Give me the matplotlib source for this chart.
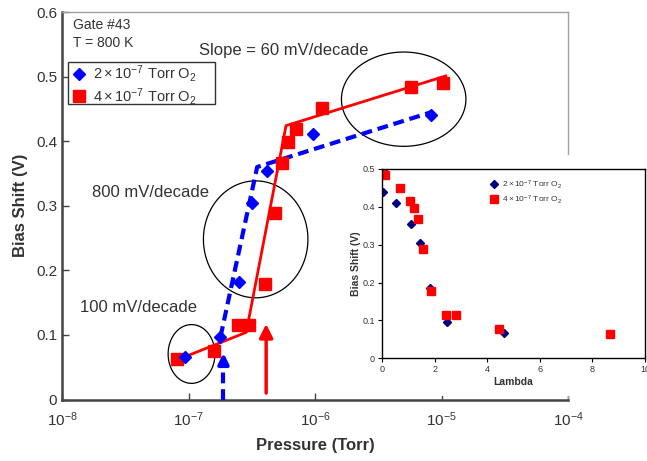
import numpy as np
import matplotlib
matplotlib.use("Agg")
import matplotlib.pyplot as plt
from matplotlib.patches import Rectangle

plt.rcParams['font.family'] = ['Liberation Sans', 'DejaVu Sans']
plt.rcParams['mathtext.fontset'] = 'custom'
plt.rcParams['mathtext.rm'] = 'Liberation Sans'
plt.rcParams['mathtext.it'] = 'Liberation Sans:italic'
plt.rcParams['mathtext.bf'] = 'Liberation Sans:bold'

# main plot data: pressure (Torr) vs bias shift (V)
blue_P = [9.3e-8, 1.79e-7, 2.52e-7, 3.19e-7, 4.19e-7, 9.6e-7, 8.2e-6]
blue_V = [0.066, 0.097, 0.182, 0.304, 0.354, 0.411, 0.441]
red_P = [8.05e-8, 1.6e-7, 2.48e-7, 3.0e-7, 4.04e-7, 4.84e-7, 5.5e-7,
         6.12e-7, 7.08e-7, 1.135e-6, 5.7e-6, 1.02e-5]
red_V = [0.063, 0.075, 0.115, 0.115, 0.179, 0.289, 0.366,
         0.399, 0.419, 0.451, 0.484, 0.490]

# fitted line segments
blue_fit_P = [1.79e-7, 3.49e-7, 8.34e-6]
blue_fit_V = [0.097, 0.360, 0.445]
red_fit_P = [8.05e-8, 2.86e-7, 5.9e-7, 1.08e-5]
red_fit_V = [0.061, 0.104, 0.424, 0.501]

# arrows (pressure, start V, end V)
blue_arrow = (1.89e-7, 0.0, 0.072)
red_arrow = (4.11e-7, 0.010, 0.117)

# ellipses: centre log10(P), centre V, width in decades, height in V
ellipses = [(-6.976, 0.0705, 0.37, 0.091),
            (-6.469, 0.248, 0.826, 0.181),
            (-5.299, 0.465, 0.984, 0.146)]

# inset data: lambda vs bias shift
blue_lam = [0.04, 0.52, 1.11, 1.44, 1.81, 2.49, 4.62]
blue_lam_V = [0.440, 0.411, 0.354, 0.305, 0.185, 0.097, 0.068]
red_lam = [0.04, 0.13, 0.67, 1.08, 1.23, 1.37, 1.57, 1.86, 2.44, 2.82, 4.43, 8.68]
red_lam_V = [0.489, 0.484, 0.451, 0.416, 0.398, 0.367, 0.290, 0.178,
             0.115, 0.115, 0.077, 0.063]

lbl_blue = r'$2\times10^{-7}$ Torr O$_2$'
lbl_red = r'$4\times10^{-7}$ Torr O$_2$'

W, H = 647, 461
TXT = '#333333'
DASH = (0, (2.6, 1.4))
fig = plt.figure(figsize=(W / 100, H / 100), dpi=100)


def px_axes(x0, y0, x1, y1):
    return fig.add_axes([x0 / W, 1 - y1 / H, (x1 - x0) / W, (y1 - y0) / H])


ax = px_axes(62, 12, 568, 399.5)
ax.set_xscale('log')
ax.set_xlim(1e-8, 1e-4)
ax.set_ylim(0, 0.6)
ax.set_yticks(np.arange(0, 0.61, 0.1))
ax.set_yticklabels(['0', '0.1', '0.2', '0.3', '0.4', '0.5', '0.6'])
ax.minorticks_off()
ax.tick_params(direction='in', length=5, width=1, colors='#444444',
               labelcolor=TXT, labelsize=11)
ax.tick_params(axis='x', pad=8)
for s in ['top', 'right']:
    ax.spines[s].set_color('#a0a0a0')
    ax.spines[s].set_linewidth(1)
for s in ['left', 'bottom']:
    ax.spines[s].set_color('#444444')
    ax.spines[s].set_linewidth(1.8)

ax.plot(red_fit_P, red_fit_V, color='red', lw=2, zorder=3)
ax.plot(blue_fit_P, blue_fit_V, color='blue', lw=3, ls=DASH, zorder=3)
ax.plot(red_P, red_V, 's', color='red', ms=8.5, ls='none', zorder=4)
ax.plot(blue_P, blue_V, 'D', color='blue', ms=6, ls='none', zorder=4)

t = np.linspace(0, 2 * np.pi, 200)
for cx, cy, w, h in ellipses:
    ax.fill(10 ** (cx + w / 2 * np.cos(t)), cy + h / 2 * np.sin(t),
            fill=False, edgecolor='black', lw=0.9, zorder=2)

# blue arrow: dashed shaft, solid head
bx, b0, b1 = blue_arrow
ax.plot([bx, bx], [b0, b1 - 0.012], color='blue', lw=3, ls=DASH, zorder=3)
ax.annotate('', xy=(bx, b1), xytext=(bx, b1 - 0.02),
            arrowprops=dict(arrowstyle='-|>,head_width=0.3,head_length=0.6',
                            color='blue', lw=3, shrinkA=0, shrinkB=0), zorder=3)
rx, r0, r1 = red_arrow
ax.annotate('', xy=(rx, r1), xytext=(rx, r0),
            arrowprops=dict(arrowstyle='-|>,head_width=0.4,head_length=0.8',
                            color='red', lw=2.5, shrinkA=0, shrinkB=0), zorder=3)

ax.text(0.022, 0.985, 'Gate #43\nT = 800 K', transform=ax.transAxes,
        fontsize=10, color=TXT, va='top', linespacing=1.35)
ax.text(1.22e-7, 0.541, 'Slope = 60 mV/decade', fontsize=12, color=TXT, va='center')
ax.text(1.72e-8, 0.320, '800 mV/decade', fontsize=12, color=TXT, va='center')
ax.text(1.39e-8, 0.142, '100 mV/decade', fontsize=12, color=TXT, va='center')

# legend with a hand-sized frame like the original
ax.add_patch(Rectangle((0.0125, 0.762), 0.29, 0.108, transform=ax.transAxes,
                       facecolor='white', edgecolor='#333333', lw=1, zorder=5))
hb, = ax.plot([], [], 'D', color='blue', ms=6)
hr, = ax.plot([], [], 's', color='red', ms=8.5)
leg = ax.legend([hb, hr], [lbl_blue, lbl_red], loc='upper left',
                bbox_to_anchor=(0.02, 0.872), borderaxespad=0, frameon=False,
                fontsize=10.5, handlelength=0.8, handletextpad=0.5,
                borderpad=0.1, labelspacing=0.1)
leg.set_zorder(6)
for txt in leg.get_texts():
    txt.set_color(TXT)

ax.set_xlabel('Pressure (Torr)', fontsize=12, fontweight='bold', color=TXT, labelpad=6)
ax.set_ylabel('Bias Shift (V)', fontsize=12, fontweight='bold', color=TXT, labelpad=6)

# white box under the inset
fig.patches.append(Rectangle((336 / W, 1 - 396 / H), (W - 336) / W, (396 - 155) / H,
                             transform=fig.transFigure, facecolor='white',
                             edgecolor='none', zorder=5))

ins = px_axes(382, 169, 645, 358.3)
ins.set_zorder(6)
ins.set_xlim(0, 10)
ins.set_ylim(0, 0.5)
ins.set_xticks([0, 2, 4, 6, 8, 10])
ins.set_yticks([0, 0.1, 0.2, 0.3, 0.4, 0.5])
ins.set_yticklabels(['0', '0.1', '0.2', '0.3', '0.4', '0.5'])
ins.tick_params(direction='out', length=3, width=0.8, labelsize=6.5,
                labelcolor=TXT, pad=2)
for s in ins.spines.values():
    s.set_linewidth(1)
ins.plot(blue_lam, blue_lam_V, 'D', color='#000080', ms=4, ls='none', label=lbl_blue)
ins.plot(red_lam, red_lam_V, 's', color='red', ms=5.5, ls='none', label=lbl_red)
il = ins.legend(loc='upper left', bbox_to_anchor=(0.385, 0.99), frameon=False,
                fontsize=6, handlelength=0.8, handletextpad=0.5, labelspacing=0.3)
for txt in il.get_texts():
    txt.set_color(TXT)
ins.set_xlabel('Lambda', fontsize=7.5, fontweight='bold', color=TXT, labelpad=2)
ins.set_ylabel('Bias Shift (V)', fontsize=7.5, fontweight='bold', color=TXT, labelpad=1)

fig.savefig('out.png', dpi=100)
